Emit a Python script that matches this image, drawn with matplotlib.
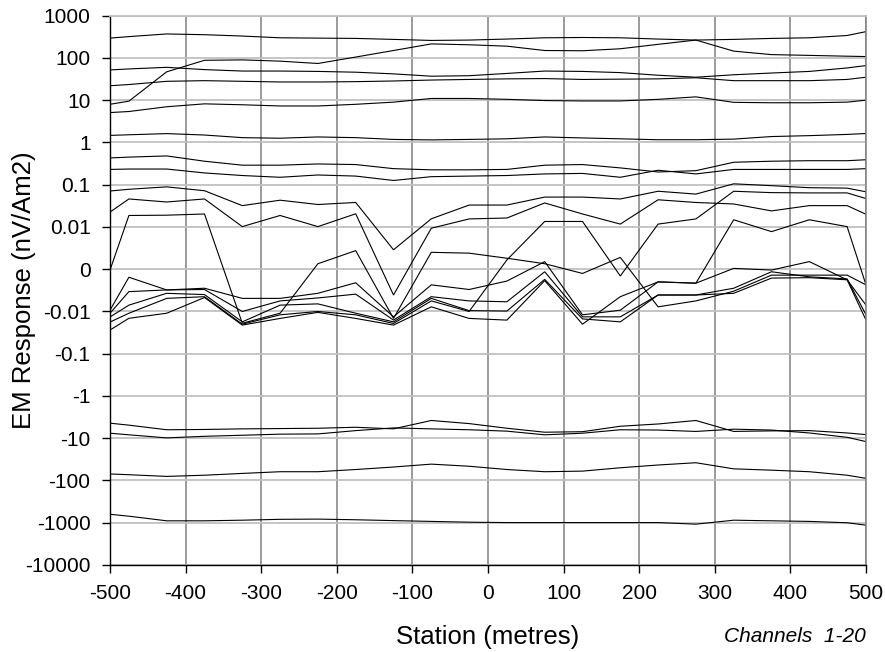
import matplotlib
matplotlib.use("Agg")
import matplotlib.pyplot as plt

plt.rcParams['font.family'] = ['Liberation Sans', 'DejaVu Sans']

# Station positions along the line (metres)
stations = [-500, -475, -425, -375, -325, -275, -225, -175, -125, -75, -25,
            25, 75, 125, 175, 225, 275, 325, 375, 425, 475, 500]

# EM response per channel (nV/Am2)
ch01 = [295, 320, 370, 355, 330, 300, 295, 290, 275, 260, 265, 280, 300, 305, 300, 280, 265, 275, 290, 300, 340, 420]
ch02 = [8, 9.5, 47, 88, 90, 84, 74, 105, 150, 215, 205, 190, 150, 148, 165, 210, 265, 145, 120, 115, 110, 108]
ch03 = [52, 55, 60, 53, 49, 49, 48, 46, 42, 37, 38, 43, 49, 48, 45, 39, 35, 40, 44, 48, 58, 66]
ch04 = [22, 23.5, 28, 29, 28, 27, 27, 27.5, 28.5, 30, 31, 32, 32.5, 31, 31.5, 32, 34, 29, 29, 29, 31, 35]
ch05 = [5.1, 5.4, 7.0, 8.2, 7.8, 7.3, 7.3, 8.0, 9.0, 11, 11, 10.5, 9.8, 9.6, 9.6, 10.5, 12, 8.9, 8.7, 8.7, 9.0, 10]
ch06 = [1.47, 1.52, 1.62, 1.5, 1.3, 1.26, 1.35, 1.3, 1.18, 1.15, 1.18, 1.22, 1.35, 1.28, 1.22, 1.16, 1.16, 1.2, 1.38, 1.45, 1.55, 1.63]
ch07 = [0.43, 0.45, 0.48, 0.36, 0.29, 0.29, 0.31, 0.30, 0.24, 0.225, 0.225, 0.23, 0.29, 0.30, 0.25, 0.20, 0.215, 0.34, 0.36, 0.37, 0.37, 0.39]
ch08 = [0.23, 0.235, 0.235, 0.19, 0.165, 0.15, 0.17, 0.16, 0.126, 0.155, 0.16, 0.165, 0.18, 0.185, 0.15, 0.22, 0.18, 0.23, 0.23, 0.23, 0.23, 0.24]
ch09 = [0.071, 0.078, 0.089, 0.072, 0.032, 0.043, 0.034, 0.038, 0.0046, 0.0156, 0.033, 0.033, 0.051, 0.051, 0.046, 0.07, 0.06, 0.105, 0.095, 0.085, 0.083, 0.068]
ch10 = [0.0225, 0.046, 0.039, 0.046, 0.0102, 0.0187, 0.0102, 0.0205, -0.0061, 0.0097, 0.0155, 0.0163, 0.037, 0.0203, 0.0117, 0.044, 0.038, 0.035, 0.024, 0.032, 0.032, 0.02]
ch11 = [-0.0002, 0.0187, 0.019, 0.0203, -0.019, -0.011, 0.0013, 0.0044, -0.0146, 0.004, 0.0038, 0.0026, 0.0013, -0.001, 0.0028, -0.0089, -0.0075, -0.0052, -0.0014, -0.0014, -0.0014, -0.0037]
ch12 = [-0.0097, -0.0019, -0.0049, -0.0045, -0.0069, -0.0069, -0.0057, -0.0032, -0.0134, -0.0037, -0.0048, -0.0028, 0.0018, -0.012, -0.0097, -0.003, -0.0033, 0.0002, -0.0002, 0.0018, -0.0025, -0.0085]
ch13 = [-0.011, -0.0053, -0.0049, -0.0048, -0.0100, -0.0075, -0.0068, -0.0059, -0.016, -0.0065, -0.0075, -0.0077, -0.0006, -0.0134, -0.0134, -0.0061, -0.0061, -0.0045, -0.0006, -0.0018, -0.0023, -0.012]
ch14 = [-0.0135, -0.0085, -0.0057, -0.006, -0.0176, -0.0085, -0.0082, -0.011, -0.0176, -0.0069, -0.0098, -0.0099, -0.0024, -0.015, -0.0176, -0.0061, -0.0061, -0.0057, -0.0021, -0.002, -0.0025, -0.016]
ch15 = [-0.0178, -0.011, -0.0069, -0.0065, -0.020, -0.012, -0.01, -0.012, -0.0192, -0.0075, -0.01, 0.0022, 0.0135, 0.0135, -0.0016, 0.0117, 0.0155, 0.07, 0.065, 0.064, 0.064, 0.047]
ch16 = [-0.0275, -0.0145, -0.011, -0.0067, -0.021, -0.0146, -0.0105, -0.0146, -0.021, -0.0089, -0.0146, -0.016, -0.0027, -0.02, -0.0065, -0.003, -0.0033, 0.0148, 0.0089, 0.0148, 0.0102, -0.0037]
ch17 = [-4.4, -4.9, -6.3, -6.2, -6.0, -5.9, -5.8, -5.5, -6.0, -3.8, -4.5, -5.8, -7.2, -7.0, -5.2, -4.6, -3.8, -6.9, -6.7, -6.6, -7.5, -8.2]
ch18 = [-7.6, -8.3, -9.8, -9.0, -8.5, -8.0, -7.9, -6.6, -5.7, -6.0, -6.3, -6.8, -8.3, -7.6, -6.3, -6.4, -6.9, -6.1, -6.4, -7.5, -9.5, -12]
ch19 = [-70, -73, -80, -75, -68, -62, -62, -55, -48, -41, -46, -55, -62, -60, -50, -43, -38, -53, -57, -62, -75, -89]
ch20 = [-630, -700, -900, -900, -870, -830, -820, -850, -890, -930, -970, -990, -990, -990, -990, -990, -1080, -870, -900, -930, -1000, -1140]

channels = [ch01, ch02, ch03, ch04, ch05, ch06, ch07, ch08, ch09, ch10,
            ch11, ch12, ch13, ch14, ch15, ch16, ch17, ch18, ch19, ch20]

ytick_values = [1000, 100, 10, 1, 0.1, 0.01, 0, -0.01, -0.1, -1, -10, -100, -1000, -10000]
ytick_labels = ["1000", "100", "10", "1", "0.1", "0.01", "0", "-0.01", "-0.1", "-1",
                "-10", "-100", "-1000", "-10000"]
xtick_values = list(range(-500, 501, 100))

fig = plt.figure(figsize=(8.85, 6.52), dpi=100)
ax = fig.add_axes([110 / 885, 1 - 565 / 652, 756 / 885, 549.3 / 652])

for ch in channels:
    ax.plot(stations, ch, color='black', lw=0.8, solid_joinstyle='miter')

ax.set_yscale('symlog', linthresh=0.01, linscale=0.9, base=10)
ax.set_ylim(-10000, 1000)
ax.set_xlim(-500, 500)
ax.set_yticks(ytick_values)
ax.set_yticklabels(ytick_labels)
ax.yaxis.set_minor_locator(matplotlib.ticker.NullLocator())
ax.set_xticks(xtick_values)
ax.set_xticklabels([str(v) for v in xtick_values])

ax.set_axisbelow(True)
ax.yaxis.grid(True, color='#c0c0c0', lw=1.3)
ax.xaxis.grid(True, color='#808080', lw=1.1)

for side in ('left', 'bottom'):
    ax.spines[side].set_color('black')
    ax.spines[side].set_linewidth(1.0)
ax.spines['top'].set_color('#c0c0c0')
ax.spines['top'].set_linewidth(1.3)
ax.spines['right'].set_color('#808080')
ax.spines['right'].set_linewidth(1.1)

ax.tick_params(axis='both', direction='out', length=6, width=1.0, color='black',
               labelsize=15)
ax.tick_params(axis='y', pad=8)
ax.tick_params(axis='x', pad=8)

ax.set_xlabel('Station (metres)', fontsize=18.5, va='center')
ax.xaxis.set_label_coords(0.5, -0.131)
ax.set_ylabel('EM Response (nV/Am2)', fontsize=18.5, va='center')
ax.yaxis.set_label_coords(-0.114, 0.5)

ax.text(1.0, -0.131, 'Channels  1-20', transform=ax.transAxes, ha='right',
        va='center', fontsize=15, style='italic')

fig.savefig('out.png', dpi=100)
